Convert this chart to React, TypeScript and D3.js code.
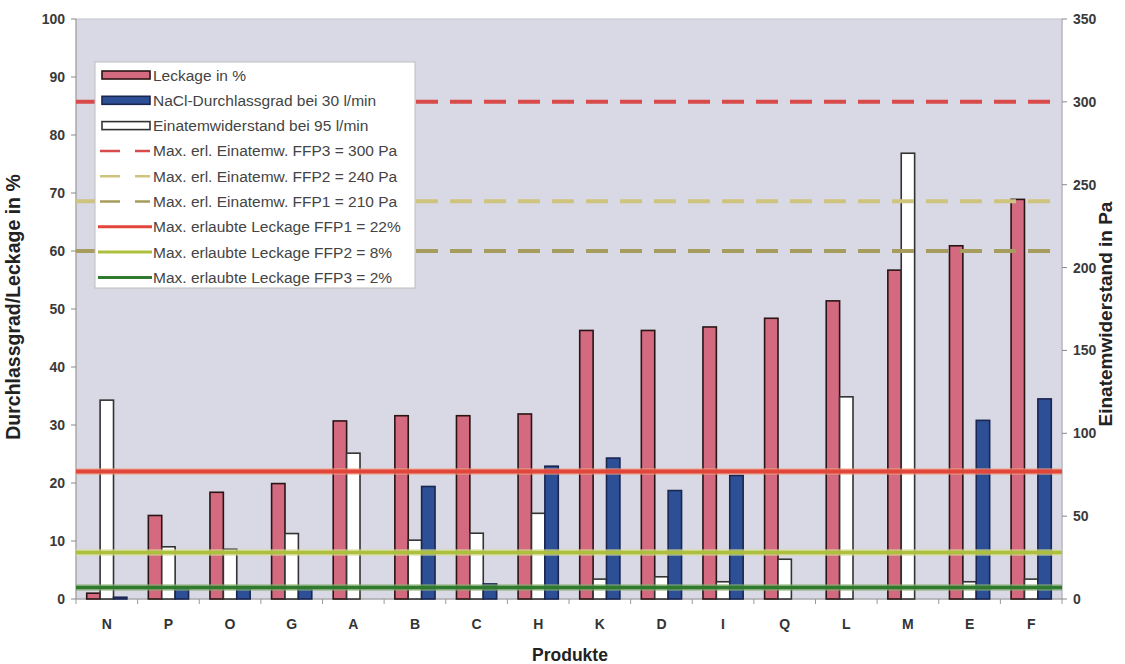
import React from "react";
import * as d3 from "d3";

const categories = ["N", "P", "O", "G", "A", "B", "C", "H", "K", "D", "I", "Q", "L", "M", "E", "F"];
const leckage = [1.0, 14.4, 18.4, 19.9, 30.7, 31.6, 31.6, 31.9, 46.3, 46.3, 46.9, 48.4, 51.4, 56.7, 60.9, 68.9];
const einatem = [120, 31.5, 30, 39.5, 88, 35.5, 39.7, 51.7, 12, 13.4, 10.4, 24, 122, 269, 10.4, 12];
const nacl = [0.3, 1.9, 1.9, 1.9, 0, 19.4, 2.6, 22.9, 24.3, 18.7, 21.3, 0, 0, 0, 30.8, 34.5];
const leftTicks = [0, 10, 20, 30, 40, 50, 60, 70, 80, 90, 100];
const rightTicks = [0, 50, 100, 150, 200, 250, 300, 350];
const paLimits = [300, 240, 210];
const leakLimits = [22, 8, 2];
const legendLabels = [
  "Leckage in %",
  "NaCl-Durchlassgrad bei 30 l/min",
  "Einatemwiderstand bei 95 l/min",
  "Max. erl. Einatemw. FFP3 = 300 Pa",
  "Max. erl. Einatemw. FFP2 = 240 Pa",
  "Max. erl. Einatemw. FFP1 = 210 Pa",
  "Max. erlaubte Leckage FFP1 = 22%",
  "Max. erlaubte Leckage FFP2 = 8%",
  "Max. erlaubte Leckage FFP3 = 2%",
];

const W = 1125, H = 664;
const L = 76, R = 1062, T = 19, B = 599;
const FONT = "'Liberation Sans', Arial, sans-serif";

const RED_FILL = "#d46a80", RED_STROKE = "#2a1515";
const BLUE_FILL = "#2d4f96", BLUE_STROKE = "#1a2650";
const WHITE_FILL = "#ffffff", WHITE_STROKE = "#333333";
const paColors = ["#d94a4a", "#cfc47e", "#a59c5e"];
const leakColors = ["#e2463a", "#adc03e", "#2f7a2f"];
const leakHalo = ["#f0a080", "#d8dc90", "#8ab070"];

export default function App() {
  const x0 = d3.scaleBand<string>().domain(categories).range([L, R]).padding(0);
  const series = ["leck", "ein", "nacl"];
  const x1 = d3.scaleBand<string>().domain(series).range([0, x0.bandwidth()]).paddingInner(0).paddingOuter(0.8);
  const yL = d3.scaleLinear().domain([0, 100]).range([B, T]);
  const yR = d3.scaleLinear().domain([0, 350]).range([B, T]);
  const bw = x1.bandwidth();

  const bars: React.ReactNode[] = [];
  categories.forEach((c, i) => {
    const bx = x0(c)!;
    const specs = [
      { k: "leck", y: yL(leckage[i]), fill: RED_FILL, stroke: RED_STROKE },
      { k: "ein", y: yR(einatem[i]), fill: WHITE_FILL, stroke: WHITE_STROKE },
      { k: "nacl", y: yL(nacl[i]), fill: BLUE_FILL, stroke: BLUE_STROKE },
    ];
    specs.forEach((s) => {
      const h = B - s.y;
      if (h <= 0) return;
      bars.push(
        <rect key={c + s.k} x={bx + x1(s.k)!} y={s.y} width={bw} height={h}
          fill={s.fill} stroke={s.stroke} strokeWidth={1.6} />
      );
    });
  });

  const legendX = 95, legendY = 62, legendW = 320, legendH = 226;
  const rowY = (i: number) => 75 + i * 25.3;

  return (
    <svg width={W} height={H} style={{ position: "absolute", left: 0, top: 0, background: "#fff" }}
      fontFamily={FONT}>
      <rect x={0} y={0} width={W} height={H} fill="#fff" />
      <rect x={L} y={T} width={R - L} height={B - T} fill="#d9d9e6" stroke="#c4c4cc" strokeWidth={1} />

      {/* left axis */}
      <line x1={L} x2={L} y1={T} y2={B} stroke="#9a9a9a" strokeWidth={1} />
      {leftTicks.map((t) => (
        <g key={"l" + t}>
          <line x1={L - 5} x2={L} y1={yL(t)} y2={yL(t)} stroke="#888" />
          <text x={L - 11} y={yL(t)} dy="0.36em" textAnchor="end" fontSize={14} fontWeight="bold" fill="#3a3a3a">{t}</text>
        </g>
      ))}
      {/* right axis */}
      <line x1={R} x2={R} y1={T} y2={B} stroke="#b0b0b8" strokeWidth={1} />
      {rightTicks.map((t) => (
        <g key={"r" + t}>
          <line x1={R} x2={R + 5} y1={yR(t)} y2={yR(t)} stroke="#888" />
          <text x={R + 11} y={yR(t)} dy="0.36em" textAnchor="start" fontSize={14} fontWeight="bold" fill="#3a3a3a">{t}</text>
        </g>
      ))}
      {/* x axis */}
      <line x1={L} x2={R} y1={B} y2={B} stroke="#9a9a9a" strokeWidth={1} />
      {categories.map((c) => (
        <g key={"x" + c}>
          <line x1={x0(c)!} x2={x0(c)!} y1={B} y2={B + 5} stroke="#999" />
          <text x={x0(c)! + x0.bandwidth() / 2} y={629} textAnchor="middle" fontSize={14} fontWeight="bold" fill="#333">{c}</text>
        </g>
      ))}
      <line x1={R} x2={R} y1={B} y2={B + 5} stroke="#999" />

      {bars}

      {/* limit lines */}
      {paLimits.map((v, i) => (
        <line key={"pa" + v} x1={L} x2={R} y1={yR(v)} y2={yR(v)} stroke={paColors[i]} strokeWidth={4}
          strokeDasharray="22,12" />
      ))}
      {leakLimits.map((v, i) => (
        <g key={"lk" + v}>
          <line x1={L} x2={R} y1={yL(v)} y2={yL(v)} stroke={leakHalo[i]} strokeWidth={6.5} opacity={0.7} />
          <line x1={L} x2={R} y1={yL(v)} y2={yL(v)} stroke={leakColors[i]} strokeWidth={i === 0 ? 4 : 3.5} />
        </g>
      ))}

      {/* legend */}
      <rect x={legendX} y={legendY} width={legendW} height={legendH} fill="#fff" stroke="#bdbdbd" strokeWidth={1} />
      {legendLabels.map((lab, i) => {
        const y = rowY(i);
        let sw: React.ReactNode;
        if (i < 3) {
          const fills = [RED_FILL, BLUE_FILL, WHITE_FILL];
          const strokes = [RED_STROKE, BLUE_STROKE, WHITE_STROKE];
          sw = <rect x={102} y={y - 4} width={48} height={8} fill={fills[i]} stroke={strokes[i]} strokeWidth={1.6} />;
        } else if (i < 6) {
          sw = <line x1={100} x2={150} y1={y} y2={y} stroke={paColors[i - 3]} strokeWidth={2.5} strokeDasharray="20,15" />;
        } else {
          sw = <line x1={98} x2={152} y1={y} y2={y} stroke={leakColors[i - 6]} strokeWidth={3} />;
        }
        return (
          <g key={"lg" + i}>
            {sw}
            <text x={153} y={y} dy="0.36em" fontSize={15.5} fill="#444">{lab}</text>
          </g>
        );
      })}

      {/* titles */}
      <text transform={`translate(20, 307) rotate(-90)`} textAnchor="middle" fontSize={19.5} fontWeight="bold" fill="#222">
        Durchlassgrad/Leckage in %
      </text>
      <text transform={`translate(1112, 314) rotate(-90)`} textAnchor="middle" fontSize={19} fontWeight="bold" fill="#222">
        Einatemwiderstand in Pa
      </text>
      <text x={570} y={661} textAnchor="middle" fontSize={17.5} fontWeight="bold" fill="#222">Produkte</text>
    </svg>
  );
}
